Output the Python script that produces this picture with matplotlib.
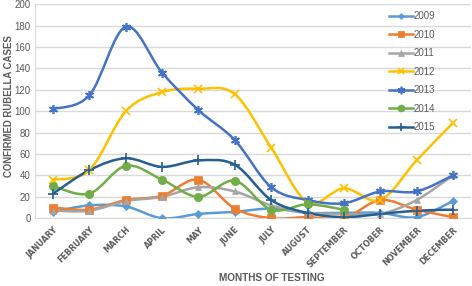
import matplotlib
matplotlib.use("Agg")

import numpy as np
import matplotlib.pyplot as plt
from matplotlib.path import Path
from matplotlib.patches import PathPatch
from matplotlib.lines import Line2D

plt.rcParams['font.family'] = ['Liberation Sans', 'DejaVu Sans']

#--------------------------------
# DATA
#--------------------------------
months = ["JANUARY", "FEBRUARY", "MARCH", "APRIL", "MAY", "JUNE", "JULY",
          "AUGUST", "SEPTEMBER", "OCTOBER", "NOVEMBER", "DECEMBER"]

y2009 = [6, 12, 11, 0, 4, 6, 9, 5, 5, 5, 1, 16]
y2010 = [10, 8, 17, 21, 36, 9, 0, 1, 0, 17, 8, 1]
y2011 = [7, 7, 16, 20, 29, 25, 12, 5, 4, 4, 17, 40]
y2012 = [36, 45, 100, 118, 121, 116, 66, 15, 28, 17, 54, 89]
y2013 = [102, 115, 179, 136, 101, 73, 29, 17, 14, 25, 25, 40]
y2014 = [30, 23, 49, 36, 20, 35, 8, 13, 8, np.nan, np.nan, np.nan]
y2015 = [23, 45, 56, 48, 54, 50, 17, 5, 1, 4, 7, 8]

years = ["2009", "2010", "2011", "2012", "2013", "2014", "2015"]
series = [y2009, y2010, y2011, y2012, y2013, y2014, y2015]
colors = ["#5B9BD5", "#ED7D31", "#A5A5A5", "#FFC000", "#4472C4", "#70AD47", "#255E91"]
markers = ["D", "s", "^", "x", (6, 2, 0), "o", "+"]
msizes = [4, 6, 5, 6, 6.5, 6, 7]


#--------------------------------
# smoothed line like Excel (cubic bezier through points)
#--------------------------------
def smooth_path(xs, ys):
    pts = np.column_stack([xs, ys])
    n = len(pts)
    verts = [pts[0]]
    codes = [Path.MOVETO]
    for i in range(n - 1):
        p0 = pts[i - 1] if i > 0 else pts[i]
        p1 = pts[i]
        p2 = pts[i + 1]
        p3 = pts[i + 2] if i + 2 < n else pts[i + 1]
        c1 = p1 + (p2 - p0) / 6.0
        c2 = p2 - (p3 - p1) / 6.0
        verts += [c1, c2, p2]
        codes += [Path.CURVE4] * 3
    return Path(verts, codes)


fig, ax = plt.subplots(figsize=(4.72, 2.86), dpi=100)
fig.subplots_adjust(left=0.074, right=0.998, top=0.985, bottom=0.237)

x = np.arange(len(months))
handles = []
for name, vals, c, m, ms in zip(years, series, colors, markers, msizes):
    v = np.array(vals, dtype=float)
    ok = ~np.isnan(v)
    path = smooth_path(x[ok], v[ok])
    ax.add_patch(PathPatch(path, facecolor="none", edgecolor=c, lw=1.8,
                           capstyle="round", joinstyle="round", zorder=3))
    mew = 1.2 if m in ("x", "+", (6, 2, 0)) else 0.5
    ax.plot(x[ok], v[ok], linestyle="none", marker=m, color=c, ms=ms,
            mew=mew, mec=c, zorder=4)
    handles.append(Line2D([], [], color=c, lw=1.8, marker=m, ms=ms - 1,
                          mew=mew, mec=c))

ax.set_xlim(-0.5, len(months) - 0.5)
ax.set_ylim(0, 200)
ax.set_yticks(np.arange(0, 201, 20))
ax.set_xticks(x)
ax.set_xticklabels(months, rotation=45, ha="right", va="top",
                   rotation_mode="anchor", fontsize=5.8, fontweight="bold",
                   color="#595959", family="DejaVu Sans")
ax.tick_params(axis="y", labelsize=7, colors="#595959", length=0, pad=3)
ax.tick_params(axis="x", length=0, pad=5)

ax.grid(axis="y", color="#D9D9D9", lw=1)
ax.set_axisbelow(True)
for s in ["top", "right"]:
    ax.spines[s].set_visible(False)
ax.spines["left"].set_color("#D9D9D9")
ax.spines["bottom"].set_color("#D9D9D9")

# axis titles placed in figure pixels (472 x 286)
fig.text(9 / 472, 1 - 106 / 286, "CONFIRMED RUBELLA CASES", rotation=90,
         ha="center", va="center", fontsize=6.9, fontweight="bold",
         color="#595959")
fig.text(272 / 472, 1 - 278 / 286, "MONTHS OF TESTING", ha="center",
         va="center", fontsize=7.2, fontweight="bold", color="#595959")

ax.legend(handles, years, loc="upper left", bbox_to_anchor=(0.797, 1.0),
          frameon=False, fontsize=7, labelcolor="#595959",
          handlelength=2.4, handletextpad=0.1, labelspacing=0.88,
          borderaxespad=0.3)

fig.savefig("out.png", dpi=100)
